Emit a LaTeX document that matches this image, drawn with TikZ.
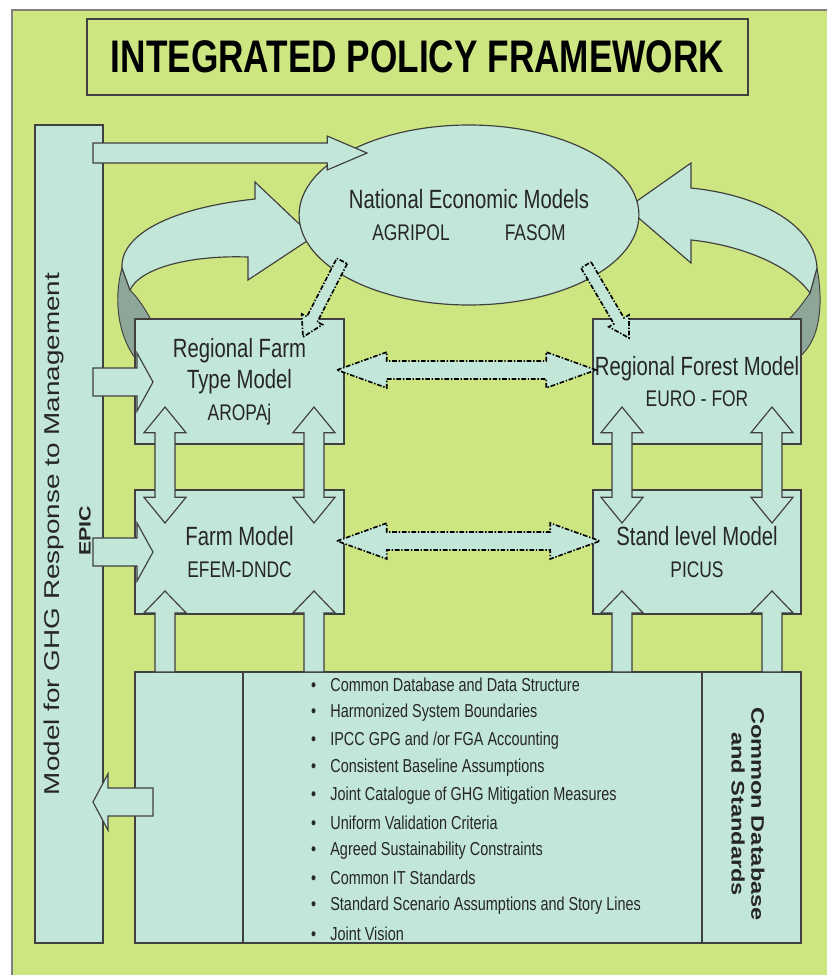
\documentclass[tikz,border=0pt]{standalone}
\usepackage{fontspec}
\setmainfont{Liberation Sans}
\newfontfamily\hsans[FakeStretch=0.77]{Liberation Sans}
\newfontfamily\vsans[FakeStretch=1.3]{Liberation Sans}
\usepackage{tikz}
\usetikzlibrary{shapes.geometric, calc, positioning}
\definecolor{cPanel}{RGB}{206,230,130}
\definecolor{cBox}{RGB}{194,230,216}
\definecolor{cLine}{RGB}{64,64,64}
\definecolor{cSide}{RGB}{142,166,152}
\definecolor{cText}{RGB}{38,38,38}
\tikzset{
	box/.style     ={rectangle, draw=cLine, fill=cBox, line width=1pt, inner sep=0pt, align=center, text=cText},
	natbox/.style  ={ellipse, draw=cLine, fill=cBox, line width=1pt, inner sep=0pt, align=center, text=cText},
	titlebox/.style={rectangle, draw=cLine, line width=1.3pt, inner sep=0pt, text=black},
	fatarr/.style  ={draw=cLine, fill=cBox, line width=1pt, line join=miter},
	dasharr/.style ={fatarr, draw=black, line width=1.4pt, dash pattern=on 4pt off 1.5pt on 1.2pt off 1.5pt},
	side/.style    ={fill=cSide, draw=cLine, line width=0.8pt},
	big/.style     ={font=\hsans\fontsize{22.5}{27}\selectfont},
	item/.style    ={anchor=west, inner sep=0pt, text=cText, font=\hsans\fontsize{16}{19}\selectfont},
}
\newcommand{\subsz}{\fontsize{19.3}{27}\selectfont}
% block arrow: from, to, shaft half width, head half width, head length
\newcommand{\fatarrow}[6][fatarr]{%
	\coordinate (fa-base) at ($(#3)!#6!(#2)$);
	\draw[#1] ($(#2)!#4!90:(#3)$) -- ($(fa-base)!#4!90:(#3)$) -- ($(fa-base)!#5!90:(#3)$) -- (#3)
		-- ($(fa-base)!#5!-90:(#3)$) -- ($(fa-base)!#4!-90:(#3)$) -- ($(#2)!#4!-90:(#3)$) -- cycle;}
% block arrow with two heads
\newcommand{\fatdarrow}[6][fatarr]{%
	\coordinate (fa-ba) at ($(#2)!#6!(#3)$);
	\coordinate (fa-bb) at ($(#3)!#6!(#2)$);
	\draw[#1] (#2) -- ($(fa-ba)!#5!90:(#3)$) -- ($(fa-ba)!#4!90:(#3)$) -- ($(fa-bb)!#4!90:(#3)$)
		-- ($(fa-bb)!#5!90:(#3)$) -- (#3) -- ($(fa-bb)!#5!-90:(#3)$) -- ($(fa-bb)!#4!-90:(#3)$)
		-- ($(fa-ba)!#4!-90:(#3)$) -- ($(fa-ba)!#5!-90:(#3)$) -- cycle;}

\begin{document}
\begin{tikzpicture}[x=0.03cm, y=-0.03cm]
	\useasboundingbox (0,0) rectangle (827,975);
	% panel and title
	\fill[cPanel] (12,10) rectangle (827,975);
	\draw[gray, line width=1.5pt] (12,975) -- (12,10) -- (827,10);
	\node[titlebox, minimum width=19.83cm, minimum height=2.28cm, font=\hsans\bfseries\fontsize{39}{40}\selectfont] (title) at (417.5,57) {INTEGRATED POLICY FRAMEWORK};

	% curved feedback arrows
	\draw[side] (122,268) .. controls (113,300) and (118,340) .. (140,364) -- (165,330) -- (150,318) .. controls (143,305) and (136,296) .. (130,290) -- cycle;
	\draw[fatarr] (122,268) .. controls (120,235) and (170,208) .. (255,199) -- (255,182) -- (313,237) -- (248,280) -- (248,257) .. controls (190,255) and (140,268) .. (130,290) -- cycle;
	\draw[side] (817,268) .. controls (823,300) and (822,340) .. (798,358) -- (780,330) -- (790,318) .. controls (798,310) and (805,300) .. (810,293) -- cycle;
	\draw[fatarr] (817,268) .. controls (815,225) and (760,195) .. (691,188) -- (691,163) -- (627,208) -- (691,263) -- (691,240) .. controls (740,245) and (790,265) .. (810,293) -- cycle;

	% models
	\node[box, minimum width=2.04cm, minimum height=24.54cm] (ghg) at (69,534) {};
	\node[natbox, minimum width=9.48cm, minimum height=5.4cm, big] (nat) at (469,215) {National Economic Models\\{\subsz AGRIPOL\hspace{47pt}FASOM}};
	\coordinate (top-s) at (93,153);
	\coordinate (top-t) at (367,153);
	\fatarrow{top-s}{top-t}{8.5pt}{14.5pt}{34pt}
	\node[box, big, minimum width=6.27cm, minimum height=3.75cm] (rfarm) at (239.5,381.5) {Regional Farm\\Type Model\\{\subsz AROPAj}};
	\node[box, big, minimum width=6.27cm, minimum height=3.72cm] (farm) at (239.5,552) {Farm Model\\{\subsz EFEM-DNDC}};
	\node[box, big, minimum width=6.24cm, minimum height=3.75cm] (rforest) at (697,381.5) {Regional Forest Model\\{\subsz EURO - FOR}};
	\node[box, big, minimum width=6.24cm, minimum height=3.72cm] (stand) at (697,552) {Stand level Model\\{\subsz PICUS}};

	% links between the levels
	\coordinate (nf-s) at (342,261);
	\coordinate (nf-t) at (303,337);
	\coordinate (nw-s) at (586,265);
	\coordinate (nw-t) at (629,338);
	\fatarrow[dasharr]{nf-s}{nf-t}{5pt}{10pt}{17pt}
	\fatarrow[dasharr]{nw-s}{nw-t}{5pt}{10pt}{17pt}
	\coordinate (rr-l) at (337,370);
	\coordinate (rr-r) at (596,370);
	\coordinate (ss-l) at (337,541);
	\coordinate (ss-r) at (600,541);
	\fatdarrow[dasharr]{rr-l}{rr-r}{7.7pt}{15.3pt}{42.5pt}
	\fatdarrow[dasharr]{ss-l}{ss-r}{7.7pt}{15.3pt}{42.5pt}
	\foreach \x in {165, 314, 622, 772} {
		\coordinate (v\x-a) at (\x,407);
		\coordinate (v\x-b) at (\x,523);
		\fatdarrow{v\x-a}{v\x-b}{8.5pt}{18pt}{22pt}
	}
	\foreach \y in {382, 552} {
		\coordinate (e\y-s) at (93,\y);
		\coordinate (e\y-t) at (153,\y);
		\fatarrow{e\y-s}{e\y-t}{12pt}{24.7pt}{13.6pt}
	}

	% common database
	\node[box, minimum width=3.24cm, minimum height=8.13cm] (basel) at (189,807.5) {};
	\node[box, minimum width=13.77cm, minimum height=8.13cm] (basem) at (472.5,807.5) {};
	\node[box, minimum width=2.97cm, minimum height=8.13cm] (baser) at (751.5,807.5) {};
	\foreach \x in {165, 314, 622, 772} {
		\coordinate (u\x-s) at (\x,672);
		\coordinate (u\x-t) at (\x,591);
		\fatarrow{u\x-s}{u\x-t}{8.5pt}{18pt}{18.7pt}
	}
	\coordinate (back-s) at (153,802);
	\coordinate (back-t) at (93,802);
	\fatarrow{back-s}{back-t}{12pt}{24pt}{12.75pt}

	% labels
	\node[rotate=90, text=cText, font=\vsans\fontsize{18.3}{22}\selectfont] (ghglbl) at (53.5,534) {Model for GHG Response to Management};
	\node[rotate=90, text=cText, font=\vsans\bfseries\fontsize{14}{18}\selectfont] (epiclbl) at (85,531) {EPIC};
	\node[rotate=-90, align=center, text=cText, font=\vsans\bfseries\fontsize{15.5}{17}\selectfont] (dblbl) at (748,814) {Common Database\\and Standards};
	\foreach \t [count=\i from 0] in {Common Database and Data Structure, Harmonized System Boundaries, {IPCC GPG and /or FGA Accounting}, Consistent Baseline Assumptions, Joint Catalogue of GHG Mitigation Measures, Uniform Validation Criteria, Agreed Sustainability Constraints, Common IT Standards, Standard Scenario Assumptions and Story Lines, Joint Vision}
		\node[item] (item\i) at (311, {685+27.6*\i}) {\textbullet\hspace{12pt}\t};
\end{tikzpicture}
\end{document}
